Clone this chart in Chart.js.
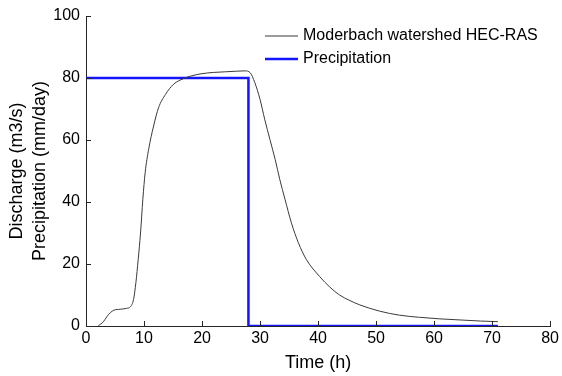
<!DOCTYPE html>
<html><head><meta charset="utf-8">
<script src="https://cdn.jsdelivr.net/npm/chart.js@4.4.1/dist/chart.umd.min.js"></script>
<style>html,body{margin:0;padding:0;background:#fff}#wrap{width:562px;height:376px}</style>
</head><body><div id="wrap"><canvas id="c" width="562" height="376"></canvas></div>
<script>
const timeDischarge = [2.1, 3.0, 3.6, 4.2, 4.8, 5.9, 7.0, 7.65, 8.2, 8.6, 9.0, 9.4, 9.8, 10.2, 10.8, 11.65, 12.5, 13.7, 15.1, 16.8, 18, 20, 22, 24, 26, 27.4, 28.3, 29.1, 30.0, 30.8, 31.7, 32.6, 33.4, 34.3, 35.4, 36.6, 38.0, 40.3, 42, 43.7, 45.5, 47.2, 50.6, 54, 57.5, 61, 65, 68, 71];
const discharge = [0, 1.4, 3.0, 4.3, 5.1, 5.4, 5.7, 6.2, 8.6, 14, 21.5, 30, 40.9, 49.5, 57, 64.5, 70.4, 74.7, 78, 79.8, 80.6, 81.4, 81.8, 82.0, 82.2, 82.3, 81.7, 78.5, 73.1, 66.7, 60.2, 53.8, 47.3, 40.9, 33.3, 26.9, 21.4, 15.9, 12.6, 10, 8.2, 6.8, 4.8, 3.5, 2.8, 2.3, 1.9, 1.6, 1.4];
const timePrecip = [0, 28, 28, 71];
const precip = [80, 80, 0, 0];
const seriesNames = ['Moderbach watershed HEC-RAS', 'Precipitation'];
const xTitle = 'Time (h)';
const yTitle = ['Discharge (m3/s)', 'Precipitation (mm/day)'];

const FONT = "'Liberation Sans', Arial, sans-serif";
const AXC = '#262626';

const toPts = (xs, ys) => xs.map((x, i) => ({x: x, y: ys[i]}));

const inwardTicks = {
  id: 'inwardTicks',
  afterDraw(chart) {
    const ctx = chart.ctx, xs = chart.scales.x, ys = chart.scales.y;
    ctx.save();
    ctx.strokeStyle = AXC; ctx.lineWidth = 1;
    ctx.beginPath();
    xs.ticks.forEach(t => {
      const p = Math.round(xs.getPixelForValue(t.value)) + 0.5;
      ctx.moveTo(p, ys.bottom); ctx.lineTo(p, ys.bottom - 5);
    });
    ys.ticks.forEach(t => {
      const p = Math.round(ys.getPixelForValue(t.value)) + 0.5;
      ctx.moveTo(xs.left, p); ctx.lineTo(xs.left + 5, p);
    });
    ctx.stroke();
    ctx.restore();
  }
};

const legendPlugin = {
  id: 'innerLegend',
  afterDraw(chart) {
    const ctx = chart.ctx;
    ctx.save();
    ctx.font = '16px ' + FONT;
    ctx.fillStyle = '#000';
    ctx.textBaseline = 'middle';
    chart.data.datasets.forEach((ds, i) => {
      const y = 36 + i * 23;
      ctx.strokeStyle = ds.borderColor;
      ctx.lineWidth = ds.borderWidth;
      ctx.beginPath(); ctx.moveTo(265, y); ctx.lineTo(298, y); ctx.stroke();
      ctx.fillText(ds.label, 303, y);
    });
    ctx.restore();
  }
};

new Chart(document.getElementById('c'), {
  type: 'line',
  data: {
    datasets: [
      {label: seriesNames[0], data: toPts(timeDischarge, discharge), borderColor: '#3a3a3a', borderWidth: 1, pointRadius: 0, cubicInterpolationMode: 'monotone', fill: false},
      {label: seriesNames[1], data: toPts(timePrecip, precip), borderColor: '#1414ff', borderWidth: 2.5, pointRadius: 0, tension: 0, fill: false}
    ]
  },
  options: {
    responsive: false, animation: false, devicePixelRatio: 1,
    layout: {padding: {top: 16, right: 11, left: 0, bottom: 0}},
    plugins: {legend: {display: false}, tooltip: {enabled: false}},
    scales: {
      x: {
        type: 'linear', min: 0, max: 80,
        ticks: {stepSize: 10, color: '#000', font: {family: FONT, size: 16}, padding: 3, maxRotation: 0},
        grid: {drawOnChartArea: false, drawTicks: false},
        border: {display: true, color: AXC, width: 1},
        title: {display: true, text: xTitle, color: '#000', font: {family: FONT, size: 18, lineHeight: 1.2}, padding: {top: 0, bottom: 2}},
        afterFit(s) { s.height = 50; }
      },
      y: {
        type: 'linear', min: 0, max: 100,
        ticks: {stepSize: 20, color: '#000', font: {family: FONT, size: 16}, padding: 6},
        grid: {drawOnChartArea: false, drawTicks: false},
        border: {display: true, color: AXC, width: 1},
        title: {display: true, text: yTitle, color: '#000', font: {family: FONT, size: 18, lineHeight: 1.28}, padding: {top: 5.5, bottom: 0}},
        afterFit(s) { s.width = 86; }
      }
    }
  },
  plugins: [inwardTicks, legendPlugin]
});
</script></body></html>
